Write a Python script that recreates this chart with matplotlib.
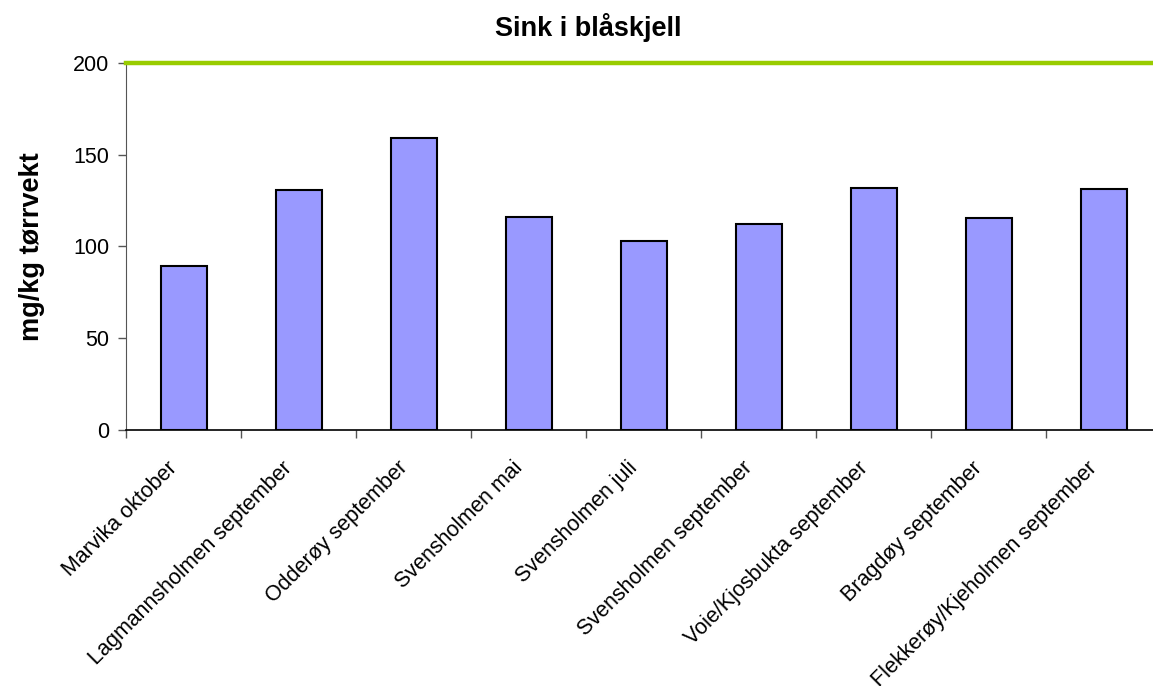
import matplotlib
matplotlib.use("Agg")
import matplotlib.pyplot as plt
import matplotlib.transforms as mtransforms

categories = ["Marvika oktober", "Lagmannsholmen september", "Odderøy september",
              "Svensholmen mai", "Svensholmen juli", "Svensholmen september",
              "Voie/Kjosbukta september", "Bragdøy september",
              "Flekkerøy/Kjeholmen september"]
values = [89.4, 131.0, 159.0, 116.2, 103.0, 112.4, 131.7, 115.4, 131.2]
limit_value = 200
yticks = [0, 50, 100, 150, 200]

plt.rcParams['font.family'] = ['Liberation Sans', 'DejaVu Sans']

fig = plt.figure(figsize=(11.53, 6.86), dpi=100)
ax = fig.add_axes([126/1153, 1-430/686, 1035/1153, 367/686])

x = list(range(len(categories)))
ax.bar(x, values, width=0.4, color='#9999FF', edgecolor='black', linewidth=1.5, zorder=2)
ax.axhline(limit_value, color='#99CC00', linewidth=3.2, clip_on=False, zorder=3)

ax.set_xlim(-0.5, len(categories) - 0.5)
ax.set_ylim(0, 200)
ax.set_yticks(yticks)
ax.tick_params(axis='y', labelsize=15.5, length=6, width=1, color='#555555', direction='out', pad=6)

ax.set_xticks(x)
ax.set_xticklabels(categories, rotation=45, ha='right', va='center', rotation_mode='anchor', fontsize=15.5)
ax.tick_params(axis='x', length=0, pad=25)
offset = mtransforms.ScaledTranslation(-9/100, 0, fig.dpi_scale_trans)
for lab in ax.get_xticklabels():
    lab.set_transform(lab.get_transform() + offset)
ax.set_xticks([i + 0.5 for i in range(-1, len(categories))], minor=True)
ax.tick_params(axis='x', which='minor', length=6, width=1, color='#555555', direction='out')

for s in ['top', 'right']:
    ax.spines[s].set_visible(False)
ax.spines['left'].set_color('#555555')
ax.spines['bottom'].set_color('black')
ax.spines['bottom'].set_linewidth(1.2)

ax.set_ylabel('mg/kg tørrvekt', fontsize=19.5, fontweight='bold', labelpad=20)
fig.text(588/1153, 1-27/686, 'Sink i blåskjell', fontsize=19.5, fontweight='bold', ha='center', va='center')

fig.savefig('out.png', dpi=100)
